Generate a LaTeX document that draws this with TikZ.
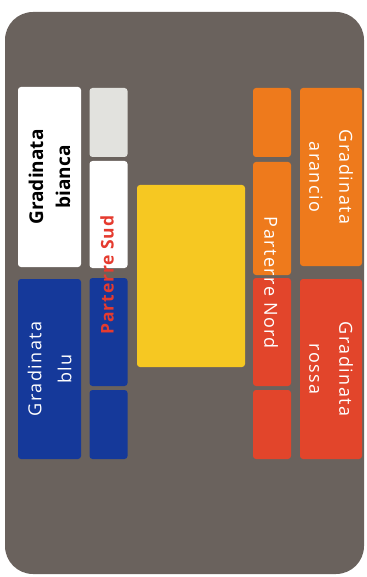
\documentclass[tikz,border=0pt]{standalone}
\usepackage{fontspec}
\setsansfont{Open Sans}
\usepackage{tikz}
\usetikzlibrary{positioning}
\definecolor{pitchgray}{HTML}{6A625D}
\definecolor{standblue}{HTML}{15399A}
\definecolor{standorange}{HTML}{EE7A1C}
\definecolor{standred}{HTML}{E2452B}
\definecolor{fieldyellow}{HTML}{F6C822}
\definecolor{lightstand}{HTML}{E2E2DE}
\definecolor{sudred}{HTML}{E53B2F}
\tikzset{
	sector/.style={rectangle, rounded corners=3pt, inner sep=0pt, draw=none}
}
\tikzset{
	sectsize/.style 2 args={minimum width=#1pt, minimum height=#2pt}
}
\tikzset{
	standtext/.style={font=\sffamily\fontsize{18}{30}\selectfont\addfontfeature{LetterSpace=8}, align=center, text=white}
}

\begin{document}
\begin{tikzpicture}[x=1pt, y=-1pt]
      \useasboundingbox[fill=white] (0,0) rectangle (366,577);
      \fill[pitchgray, rounded corners=28pt] (5,12) rectangle (364,574);
      % stands
      \node[sector, fill=white, sectsize={63}{180}] (bianca) at (49.5,177) {};
      \node[sector, fill=standblue, sectsize={63}{180}] (blu) at (49.5,369) {};
      \node[sector, fill=standorange, sectsize={62}{178}] (arancio) at (331,177) {};
      \node[sector, fill=standred, sectsize={62}{180}] (rossa) at (331,369) {};
      % parterre
      \foreach \n/\x/\y/\h/\c in {
        sa/108.5/122.5/69/lightstand, sb/108.5/214.5/107/white,
        sc/108.5/332/108/standblue, sd/108.5/424.5/69/standblue,
        na/272/122.5/69/standorange, nb/272/218.5/113/standorange,
        nc/272/332/108/standred, nd/272/424.5/69/standred}
        \node[sector, fill=\c, sectsize={38}{\h}] (\n) at (\x,\y) {};
      \node[sector, fill=fieldyellow, sectsize={108}{182}] (field) at (191,276) {};
      % labels
      \node[standtext, text=black, font=\sffamily\bfseries\fontsize{19}{27}\selectfont, rotate=90] (tbianca) at (bianca) {Gradinata\\bianca};
      \node[standtext, rotate=90] (tblu) at (blu) {Gradinata\\blu};
      \node[standtext, rotate=-90] (tarancio) at (arancio) {Gradinata\\arancio};
      \node[standtext, rotate=-90] (trossa) at (rossa) {Gradinata\\rossa};
      \node[standtext, text=sudred, font=\sffamily\bfseries\fontsize{17.5}{20}\selectfont\addfontfeature{LetterSpace=5}, rotate=90] (tsud) at (107,275) {Parterre Sud};
      \node[standtext, rotate=-90] (tnord) at (271,283) {Parterre Nord};
    \end{tikzpicture}
\end{document}
